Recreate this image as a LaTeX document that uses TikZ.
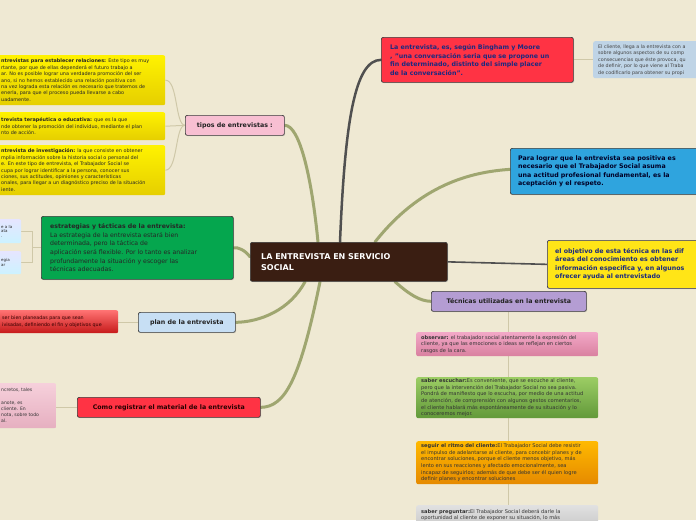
\documentclass[tikz,border=0pt]{standalone}
\usepackage{fontspec}
\setmainfont{DejaVu Sans}
\usetikzlibrary{shadows,backgrounds}
\definecolor{bg}{HTML}{EFE9D3}
\definecolor{bord}{HTML}{3A3A3A}
\definecolor{branch}{HTML}{9FA670}
\definecolor{darkbranch}{HTML}{505050}
\definecolor{thin}{HTML}{CFC8A8}
\definecolor{cbrown}{HTML}{3A1E12}
\definecolor{cred}{HTML}{FF3344}
\definecolor{navy}{HTML}{1B2A80}
\definecolor{cblue}{HTML}{2FA4DE}
\definecolor{cyel}{HTML}{FFE517}
\definecolor{cpurp}{HTML}{B49DD3}
\definecolor{cpink}{HTML}{F8BFD2}
\definecolor{cgreen}{HTML}{05A64E}
\definecolor{lblue}{HTML}{C7DFF4}
\definecolor{greyblue}{HTML}{BFD4E6}
\definecolor{dtext}{HTML}{222222}
\definecolor{pinkT}{HTML}{F2A8C7}
\definecolor{pinkB}{HTML}{D9809F}
\definecolor{greenT}{HTML}{9CCD64}
\definecolor{greenB}{HTML}{62993A}
\definecolor{plT}{HTML}{F6D0DB}
\definecolor{plB}{HTML}{E6AFC0}
\newcommand\fCen{\fontsize{8}{10.5}\selectfont}
\newcommand\fBig{\fontsize{6.3}{8.5}\selectfont}
\newcommand\fMid{\fontsize{6.2}{8.6}\selectfont}
\newcommand\fLab{\fontsize{6.3}{8}\selectfont}
\newcommand\fYel{\fontsize{4.9}{6.4}\selectfont}
\newcommand\fTec{\fontsize{5.1}{6.7}\selectfont}
\newcommand\fSml{\fontsize{4.8}{6.5}\selectfont}
\newcommand\fTiny{\fontsize{4}{4.4}\selectfont}
\tikzset{
  bx/.style={draw=bord, line width=0.7pt, rounded corners=2pt, inner sep=0pt, anchor=north west,
    drop shadow={opacity=0.25, shadow xshift=0.8pt, shadow yshift=-0.8pt}},
  sbx/.style={rounded corners=2pt, inner sep=0pt, anchor=north west},
  tx/.style={inner sep=0pt, align=left, anchor=west, text=dtext},
  br/.style={draw=branch, line width=3pt, line cap=round},
  dbr/.style={draw=darkbranch, line width=2.5pt, line cap=round},
  con/.style={draw=thin, line width=1pt},
}
\begin{document}
\begin{tikzpicture}[x=1pt,y=-1pt]
\clip (0,0) rectangle (696,520);
\useasboundingbox (0,0) rectangle (696,520);

% ---------- center
\node[bx, fill=cbrown, minimum width=197pt, minimum height=39pt] (cen) at (250,242) {};
\node[tx, text=white, font=\fCen\bfseries] (cent) at ([shift={(11,0)}]cen.west) {LA ENTREVISTA EN SERVICIO\\SOCIAL};

% ---------- top right red
\node[bx, fill=cred, minimum width=192pt, minimum height=45pt] (red) at (381,37) {};
\node[tx, text=navy, font=\fBig\bfseries] (redt) at ([shift={(9,0)}]red.west) {La entrevista, es, según Bingham y Moore\\, "una conversación seria que se propone un\\fin determinado, distinto del simple placer\\de la conversación".};

\node[sbx, fill=greyblue, minimum width=120pt, minimum height=37pt] (gtr) at (593,41) {};
\node[tx, text=dtext!85, font=\fSml] (gtrt) at ([shift={(5,0)}]gtr.west) {El cliente, llega a la entrevista con a\\sobre algunos aspectos de su comp\\consecuencias que éste provoca, qu\\de definir, por lo que viene al Traba\\de codificarlo para obtener su propi};

% ---------- blue
\node[bx, fill=cblue, minimum width=200pt, minimum height=46pt] (blu) at (510,148) {};
\node[tx, text=black!85!blue, font=\fBig\bfseries] (blut) at ([shift={(8,0)}]blu.west) {Para lograr que la entrevista sea positiva es\\necesario que el Trabajador Social asuma\\una actitud profesional fundamental, es la\\aceptación y el respeto.};

% ---------- yellow right
\node[bx, draw=bord!80!blue, fill=cyel, minimum width=160pt, minimum height=48pt] (yr) at (547,240) {};
\node[tx, text=navy, font=\fBig\bfseries] (yrt) at ([shift={(8,0)}]yr.west) {el objetivo de esta técnica en las dif\\áreas del conocimiento es obtener\\información especifica y, en algunos\\ofrecer ayuda al entrevistado};

% ---------- tecnicas
\node[bx, fill=cpurp, minimum width=155pt, minimum height=20pt] (tec) at (431,291) {};
\node[inner sep=0pt, text=dtext, font=\fLab\bfseries] (tect) at (tec.center) {Técnicas utilizadas en la entrevista};

\node[sbx, top color=pinkT, bottom color=pinkB, minimum width=182pt, minimum height=24pt] (obs) at (416,332) {};
\node[tx, text=black!80, font=\fTec] (obst) at ([shift={(5,0)}]obs.west) {\textbf{observar:} el trabajador social atentamente la expresión del\\cliente, ya que las emociones o ideas se reflejan en ciertos\\rasgos de la cara.};

\node[sbx, top color=greenT, bottom color=greenB, minimum width=182pt, minimum height=41pt] (esc) at (416,377) {};
\node[tx, text=black!80, font=\fTec] (esct) at ([shift={(5,0)}]esc.west) {\textbf{saber escuchar:}Es conveniente, que se escuche al cliente,\\pero que la intervención del Trabajador Social no sea pasiva.\\Pondrá de manifiesto que lo escucha, por medio de una actitud\\de atención, de comprensión con algunos gestos comentarios,\\el cliente hablará más espontáneamente de su situación y lo\\conoceremos mejor.};

\node[sbx, top color=orange!55!yellow, bottom color=orange!80!yellow!90!black, minimum width=182pt, minimum height=43pt] (rit) at (416,441) {};
\node[tx, text=black!80, font=\fTec] (ritt) at ([shift={(5,0)}]rit.west) {\textbf{seguir el ritmo del cliente:}El Trabajador Social debe resistir\\el impulso de adelantarse al cliente, para concebir planes y de\\encontrar soluciones, porque el cliente menos objetivo, más\\lento en sus reacciones y afectado emocionalmente, sea\\incapaz de seguirlos; además de que debe ser él quien logre\\definir planes y encontrar soluciones};

\node[sbx, top color=black!12, bottom color=black!24, minimum width=182pt, minimum height=30pt] (preg) at (416,505) {};
\node[tx, anchor=north west, text=black!80, font=\fTec] (pregt) at ([shift={(5,4)}]preg.north west) {\textbf{saber preguntar:}El Trabajador Social deberá darle la\\oportunidad al cliente de exponer su situación, lo más};

% ---------- tipos
\node[bx, fill=cpink, minimum width=99pt, minimum height=20pt] (tip) at (185,115) {};
\node[inner sep=0pt, text=dtext, font=\fLab\bfseries] (tipt) at (tip.center) {tipos de entrevistas :};

\node[sbx, top color=yellow!90!orange, bottom color=yellow!80!orange!90!black, minimum width=173pt, minimum height=50pt] (ya) at (-8,55) {};
\node[tx, text=black!85, font=\fYel] (yat) at ([shift={(9,0)}]ya.west) {\textbf{ntrevistas para establecer relaciones:} Este tipo es muy\\rtante, por que de ellas dependerá el futuro trabajo a\\ar. No es posible lograr una verdadera promoción del ser\\ano, si no hemos establecido una relación positiva con\\na vez lograda esta relación es necesario que tratemos de\\enerla, para que el proceso pueda llevarse a cabo\\uadamente.};

\node[sbx, top color=yellow!90!orange, bottom color=yellow!80!orange!90!black, minimum width=173pt, minimum height=28pt] (yb) at (-8,112) {};
\node[tx, text=black!85, font=\fYel] (ybt) at ([shift={(9,0)}]yb.west) {\textbf{trevista terapéutica o educativa:} que es la que\\nde obtener la promoción del individuo, mediante el plan\\nto de acción.};

\node[sbx, top color=yellow!90!orange, bottom color=yellow!80!orange!90!black, minimum width=173pt, minimum height=50pt] (yc) at (-8,145) {};
\node[tx, text=black!85, font=\fYel] (yct) at ([shift={(9,0)}]yc.west) {\textbf{ntrevista de investigación:} la que consiste en obtener\\mplia información sobre la historia social o personal del\\e. En este tipo de entrevista, el Trabajador Social se\\cupa por lograr identificar a la persona, conocer sus\\ciones, sus actitudes, opiniones y características\\onales, para llegar a un diagnóstico preciso de la situación\\iente.};

% ---------- estrategias
\node[bx, fill=cgreen, minimum width=192pt, minimum height=63pt] (est) at (41,216) {};
\node[tx, text=black!85, font=\fMid] (estt) at ([shift={(9,0)}]est.west) {\textbf{estrategias y tácticas de la entrevista:}\\La estrategia de la entrevista estará bien\\determinada, pero la táctica de\\ aplicación será flexible. Por lo tanto es analizar\\profundamente la situación y escoger las\\técnicas adecuadas.};

\node[sbx, top color=blue!10!white, bottom color=blue!25!cyan!20!white, minimum width=29pt, minimum height=24pt] (sa) at (-8,219) {};
\node[tx, text=black!85, font=\fTiny] (sat) at ([shift={(9,0)}]sa.west) {e a la\\ata\\.};
\node[sbx, top color=blue!10!white, bottom color=blue!25!cyan!20!white, minimum width=29pt, minimum height=23pt] (sb) at (-8,251) {};
\node[tx, text=black!85, font=\fTiny] (sbt) at ([shift={(9,0)}]sb.west) {egia\\ar};

% ---------- plan
\node[bx, fill=lblue, minimum width=97pt, minimum height=20pt] (pla) at (138,312) {};
\node[inner sep=0pt, text=dtext, font=\fLab\bfseries] (plat) at (pla.center) {plan de la entrevista};

\node[sbx, top color=red!55!white, bottom color=red!75!black!90, minimum width=126pt, minimum height=23pt] (rl) at (-8,310) {};
\node[tx, text=black!80!red, font=\fSml] (rlt) at ([shift={(10,0)}]rl.west) {ser bien planeadas para que sean\\ivisadas, definiendo el fin y objetivos que};

% ---------- como registrar
\node[bx, fill=cred, minimum width=183pt, minimum height=20pt] (com) at (77,397) {};
\node[inner sep=0pt, text=black!85!red, font=\fLab\bfseries] (comt) at (com.center) {Como registrar el material de la entrevista};

\node[sbx, top color=plT, bottom color=plB, minimum width=64pt, minimum height=45pt] (pl) at (-8,383) {};
\node[tx, text=black!80, font=\fontsize{4.6}{6.2}\selectfont] (plt) at ([shift={(9,0)}]pl.west) {ncretos, tales\\ \\anote, es\\cliente. En\\nota, sobre todo\\al.};

% ---------- connectors
\begin{scope}[on background layer]
\fill[bg] (0,0) rectangle (696,520);
\draw[dbr] ([shift={(90,0)}]cen.north west) .. controls (345,120) and (355,60) .. (red.west);
\draw[br] ([shift={(125,0)}]cen.north west) .. controls (420,185) and (470,172) .. ([shift={(0,-2)}]blu.west);
\draw[darkbranch, line width=1.6pt] (cen.east) -- (yr.west);
\draw[br] ([shift={(145,0)}]cen.south west) .. controls (410,295) and (420,301) .. (tec.west);
\draw[br] ([shift={(68,0)}]cen.north west) .. controls (312,180) and (300,125) .. (tip.east);
\draw[br] ([shift={(0,-5)}]cen.west) .. controls (245,250) and (238,247) .. (est.east);
\draw[br] ([shift={(55,0)}]cen.south west) .. controls (290,310) and (260,322) .. (pla.east);
\draw[br] ([shift={(70,0)}]cen.south west) .. controls (300,380) and (285,407) .. (com.east);
\draw[con] (red.east) -- (gtr.west |- red.east);
\draw[con] (tec.south) -- (tec.south |- preg.north);
\draw[con] (tip.west) .. controls (175,125) and (178,80) .. (ya.east);
\draw[con] (tip.west) -- (yb.east);
\draw[con] (tip.west) .. controls (175,125) and (178,170) .. (yc.east);
\coordinate (ej) at ([shift={(-9,0)}]est.west);
\draw[con] (est.west) -- (ej) |- (sa.east);
\draw[con] (ej) |- (sb.east);
\draw[con] (pla.west) -- (rl.east |- pla.west);
\draw[con] (com.west) -- (pl.east |- com.west);
\end{scope}
\end{tikzpicture}
\end{document}
